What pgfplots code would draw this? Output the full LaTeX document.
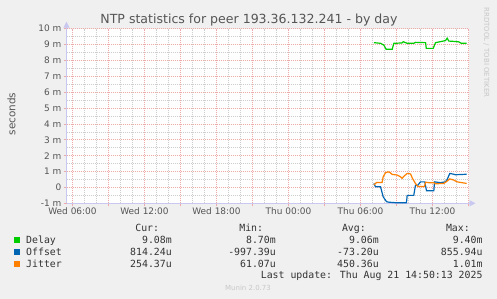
\documentclass[border=0pt]{standalone}
\usepackage{pgfplots}
\pgfplotsset{compat=1.18}
\usepackage{fontspec}
\setmainfont{DejaVu Sans}
\newfontfamily\monofont{DejaVu Sans Mono}
\usetikzlibrary{arrows.meta}
\definecolor{bgc}{RGB}{240,240,240}
\definecolor{mgrid}{RGB}{238,170,170}
\definecolor{ngrid}{RGB}{205,205,205}
\definecolor{axisc}{RGB}{200,200,240}
\definecolor{txt}{RGB}{85,85,85}
\definecolor{legtxt}{RGB}{51,51,51}
\definecolor{cdelay}{RGB}{0,204,0}
\definecolor{coffset}{RGB}{0,102,179}
\definecolor{cjitter}{RGB}{255,128,0}
\begin{document}
\begin{tikzpicture}
\useasboundingbox (0,0) rectangle (497bp,299bp);
\fill[bgc] (0,0) rectangle (497bp,299bp);
\begin{axis}[
  at={(66.5bp,95.7bp)}, anchor=south west,
  scale only axis, width=402bp, height=174.6bp,
  xmin=5.5, xmax=39, ymin=-1, ymax=10,
  axis background/.style={fill=white},
  axis lines=left,
  axis line style={draw=axisc, line width=0.8bp},
  x axis line style={-{Triangle[length=6bp,width=6bp]}, shorten >=-7bp},
  y axis line style={-{Triangle[length=6bp,width=6bp]}, shorten >=-7bp},
  xtick={6,9,...,39},
  xticklabels={Wed 06:00,,Wed 12:00,,Wed 18:00,,Thu 00:00,,Thu 06:00,,Thu 12:00,,},
  minor x tick num=2,
  ytick={-1,0,...,10},
  yticklabels={-1 m,0,1 m,2 m,3 m,4 m,5 m,6 m,7 m,8 m,9 m,10 m},
  minor y tick num=1,
  tick align=outside,
  major tick length=3bp, minor tick length=0pt,
  every tick/.style={draw=mgrid, line width=0.8bp},
  grid=both,
  major grid style={draw=mgrid, line width=0.7bp, dash pattern=on 1bp off 1bp},
  minor grid style={draw=ngrid, line width=0.7bp, dash pattern=on 1bp off 1bp},
  tick label style={font=\fontsize{9}{10}\selectfont, text=txt},
  xticklabel style={inner sep=1.5bp},
  yticklabel style={inner sep=2bp},
  clip=true,
]
\addplot[cdelay, line width=1.2bp] coordinates {
(31.11,9.12) (31.67,9.08) (31.94,8.97) (32.14,8.70) (32.64,8.70) (32.78,9.08)
(33.45,9.10) (33.56,9.18) (33.89,9.08) (34.45,9.08) (34.58,9.14) (35.42,9.12)
(35.48,8.76) (36.06,8.76) (36.25,9.12) (37.08,9.25) (37.22,9.40) (37.36,9.22)
(37.78,9.20) (38.19,9.17) (38.39,9.08) (38.85,9.08)
};
\addplot[coffset, line width=1.2bp] coordinates {
(31.11,0.25) (31.25,0.04) (31.67,0.04) (31.89,-0.59) (32.17,-0.90) (32.36,-0.93)
(33.06,-0.97) (33.83,-0.97) (33.89,-0.50) (34.44,-0.50) (34.58,0.14) (34.78,0.14)
(35.00,0.35) (35.36,0.35) (35.50,-0.21) (36.11,-0.21) (36.17,0.35) (36.67,0.30)
(37.08,0.35) (37.22,0.50) (37.44,0.88) (37.72,0.84) (37.92,0.80) (38.85,0.83)
};
\addplot[cjitter, line width=1.2bp] coordinates {
(31.11,0.15) (31.33,0.31) (31.80,0.31) (31.89,0.67) (32.08,0.92) (32.28,0.98)
(32.44,0.95) (32.64,0.82) (33.06,0.78) (33.33,0.67) (33.47,0.57) (33.61,0.70)
(33.89,0.88) (34.17,0.85) (34.33,0.57) (34.58,0.25) (34.78,0.06) (35.33,0.06)
(35.42,0.33) (35.69,0.30) (36.11,0.30) (36.25,0.23) (36.94,0.25) (37.22,0.40)
(37.44,0.54) (37.78,0.46) (38.06,0.35) (38.85,0.25)
};
\end{axis}
% title and labels
\node[anchor=base, text=txt, font=\fontsize{12.6}{14}\selectfont, inner sep=0] at (249bp,275bp) {NTP statistics for peer 193.36.132.241 - by day};
\node[rotate=90, text=txt, font=\fontsize{10.5}{12}\selectfont, inner sep=0] at (11.5bp,185bp) {seconds};
\node[rotate=-90, text={rgb,255:red,200;green,200;blue,200}, font=\fontsize{7}{8}\selectfont, inner sep=0] at (486.5bp,246.5bp) {RRDTOOL / TOBI OETIKER};
% legend
\begin{scope}[every node/.style={inner sep=0, text=legtxt, font=\monofont\fontsize{9.9}{11}\selectfont}]
\node[anchor=base east] at (159.3bp,67.5bp) {Cur:};
\node[anchor=base east] at (263.3bp,67.5bp) {Min:};
\node[anchor=base east] at (366bp,67.5bp) {Avg:};
\node[anchor=base east] at (470bp,67.5bp) {Max:};
\fill[cdelay] (13.8bp,55.6bp) rectangle +(6.5bp,6.5bp);
\fill[coffset] (13.8bp,43.6bp) rectangle +(6.5bp,6.5bp);
\fill[cjitter] (13.8bp,31.6bp) rectangle +(6.5bp,6.5bp);
\node[anchor=base west] at (26bp,55.7bp) {Delay};
\node[anchor=base west] at (26bp,43.7bp) {Offset};
\node[anchor=base west] at (26bp,31.7bp) {Jitter};
\node[anchor=base east] at (172bp,55.7bp) {9.08m};
\node[anchor=base east] at (276bp,55.7bp) {8.70m};
\node[anchor=base east] at (379bp,55.7bp) {9.06m};
\node[anchor=base east] at (482.7bp,55.7bp) {9.40m};
\node[anchor=base east] at (172bp,43.7bp) {814.24u};
\node[anchor=base east] at (276bp,43.7bp) {-997.39u};
\node[anchor=base east] at (379bp,43.7bp) {-73.20u};
\node[anchor=base east] at (482.7bp,43.7bp) {855.94u};
\node[anchor=base east] at (172bp,31.7bp) {254.37u};
\node[anchor=base east] at (276bp,31.7bp) {61.07u};
\node[anchor=base east] at (379bp,31.7bp) {450.36u};
\node[anchor=base east] at (482.7bp,31.7bp) {1.01m};
\node[anchor=base east] at (482.7bp,20.5bp) {Last update: Thu Aug 21 14:50:13 2025};
\end{scope}
\node[anchor=base, inner sep=0, text={rgb,255:red,200;green,200;blue,200}, font=\fontsize{7}{8}\selectfont] at (248bp,9bp) {Munin 2.0.73};
\end{tikzpicture}
\end{document}
